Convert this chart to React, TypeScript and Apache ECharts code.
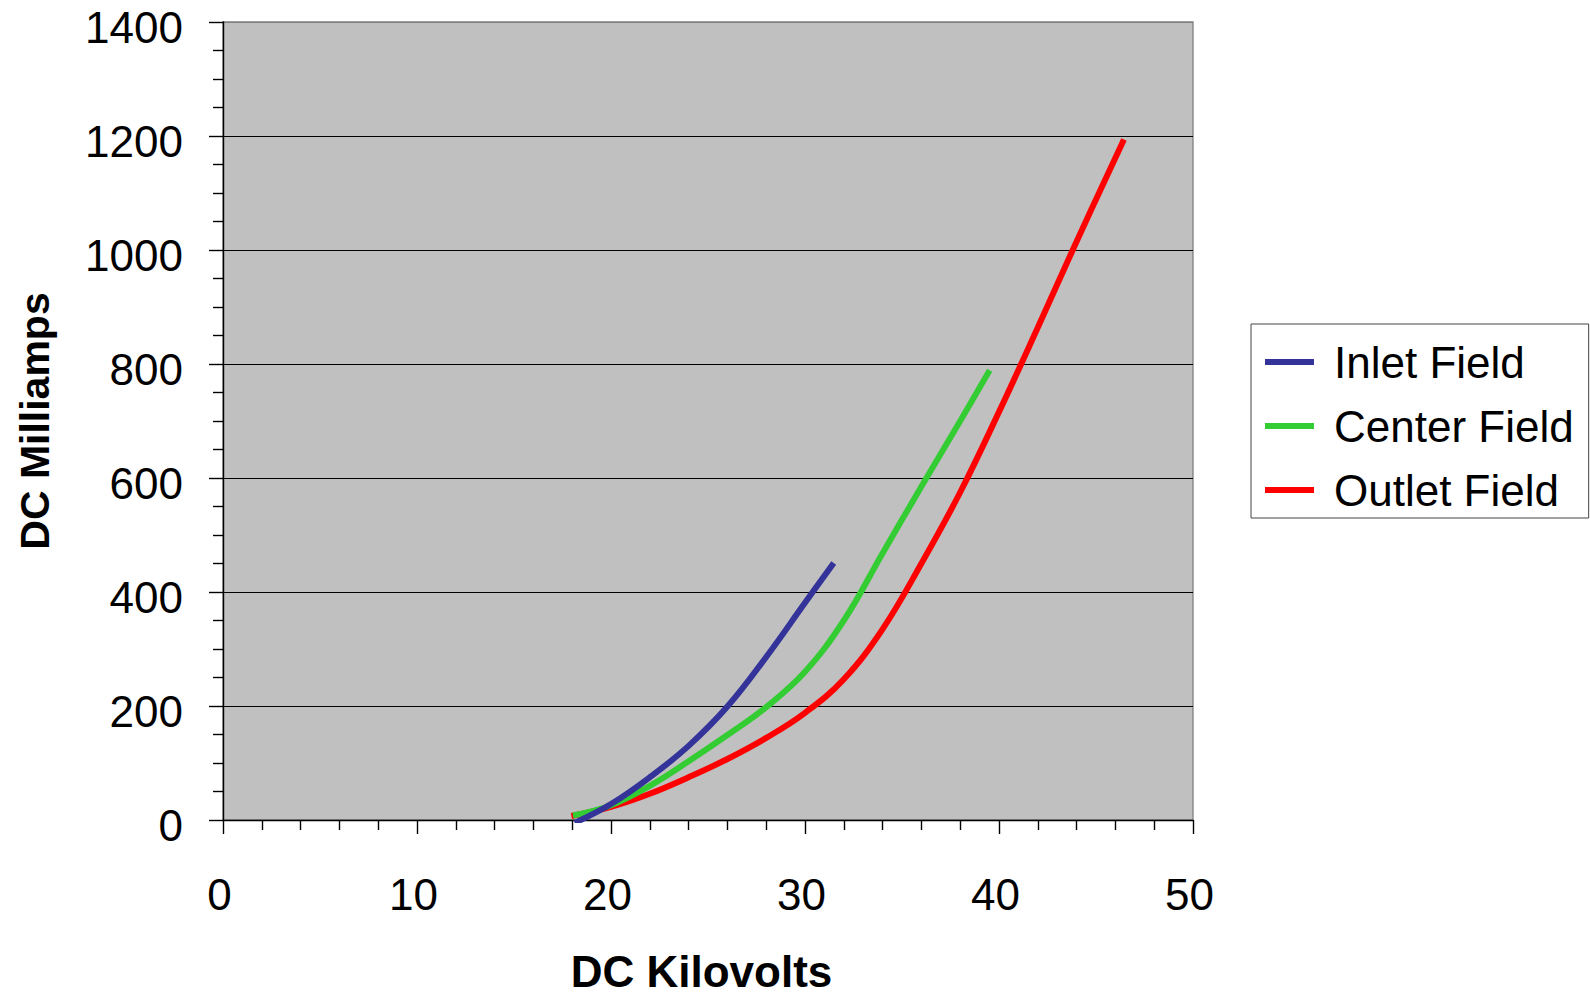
import React, { useEffect, useRef } from "react";
import * as echarts from "echarts";

const seriesNames = ["Inlet Field", "Center Field", "Outlet Field"];
const seriesColors = ["#333399", "#33CC33", "#FF0000"];

const inletField: [number, number][] = [
  [18.13, -5], [20, 28], [22, 75], [24, 130], [26, 199], [28, 286], [30, 381], [31.48, 451],
];
const centerField: [number, number][] = [
  [18.04, 8], [20, 26], [22, 60], [24, 103], [26, 149], [28, 198], [30, 260], [32, 350],
  [34, 468], [36, 585], [38, 700], [39.52, 789],
];
const outletField: [number, number][] = [
  [17.96, 7], [20, 23], [22, 46], [24, 75], [26, 107], [28, 144], [30, 188], [32, 247],
  [34, 335], [36, 450], [38, 575], [40, 716], [42, 864], [44, 1015], [46.44, 1194],
];

const xTitle = "DC Kilovolts";
const yTitle = "DC Milliamps";

export default function App() {
  const ref = useRef<HTMLDivElement>(null);
  useEffect(() => {
    document.body.style.margin = "0";
    const chart = echarts.init(ref.current!, null, { renderer: "svg" });
    const font = "Liberation Sans, Arial, sans-serif";
    const data = [inletField, centerField, outletField];
    chart.setOption({
      animation: false,
      textStyle: { fontFamily: font },
      grid: {
        left: 223, top: 22, right: 397, bottom: 170,
        show: true, backgroundColor: "#C0C0C0", borderColor: "#808080", borderWidth: 1.3,
      },
      legend: {
        orient: "vertical",
        left: 1251, top: 324,
        padding: [16, 15, 6, 14],
        itemGap: 20,
        itemWidth: 49,
        itemHeight: 6,
        borderColor: "#444",
        borderWidth: 1,
        backgroundColor: "#fff",
        icon: "rect",
        textStyle: { fontSize: 44, color: "#000", fontFamily: font, padding: [0, 0, 0, 15] },
        data: seriesNames,
      },
      xAxis: {
        type: "value", min: 0, max: 50, interval: 10,
        name: xTitle, nameLocation: "middle", nameGap: 129,
        nameTextStyle: { fontSize: 44, fontWeight: "bold", color: "#000", fontFamily: font, padding: [0, 13, 0, 0] },
        axisLine: { show: true, lineStyle: { color: "#000", width: 1.4 } },
        axisTick: { show: true, inside: false, length: 14, lineStyle: { color: "#000", width: 1.4 } },
        minorTick: { show: true, splitNumber: 5, length: 10, lineStyle: { color: "#000", width: 1.4 } },
        axisLabel: { fontSize: 44, color: "#000", margin: 52, fontFamily: font, padding: [0, 7, 0, 0] },
        splitLine: { show: false },
      },
      yAxis: {
        type: "value", min: 0, max: 1400, interval: 200,
        name: yTitle, nameLocation: "middle", nameGap: 168, nameRotate: 90,
        nameTextStyle: { fontSize: 41, fontWeight: "bold", color: "#000", fontFamily: font },
        axisLine: { show: true, lineStyle: { color: "#000", width: 1.4 } },
        axisTick: { show: true, inside: false, length: 14, lineStyle: { color: "#000", width: 1.4 } },
        minorTick: { show: true, splitNumber: 4, length: 10, lineStyle: { color: "#000", width: 1.4 } },
        axisLabel: {
          fontSize: 44, lineHeight: 10, verticalAlign: "top",
          color: "#000", margin: 40, fontFamily: font,
          formatter: (v: number) => String(v),
        },
        splitLine: {
          show: true,
          lineStyle: { color: ["#000", "#000", "#000", "#000", "#000", "#000", "#000", "#808080"], width: 1.2 },
        },
      },
      series: seriesNames.map((n, i) => ({
        name: n,
        type: "line",
        data: data[i],
        smooth: 0.4,
        showSymbol: false,
        symbol: "none",
        color: seriesColors[i],
        lineStyle: { color: seriesColors[i], width: 6, cap: "butt" },
        z: 3 + (2 - i),
      })),
    });
    return () => chart.dispose();
  }, []);
  return <div ref={ref} style={{ width: 1590, height: 998 }} />;
}
